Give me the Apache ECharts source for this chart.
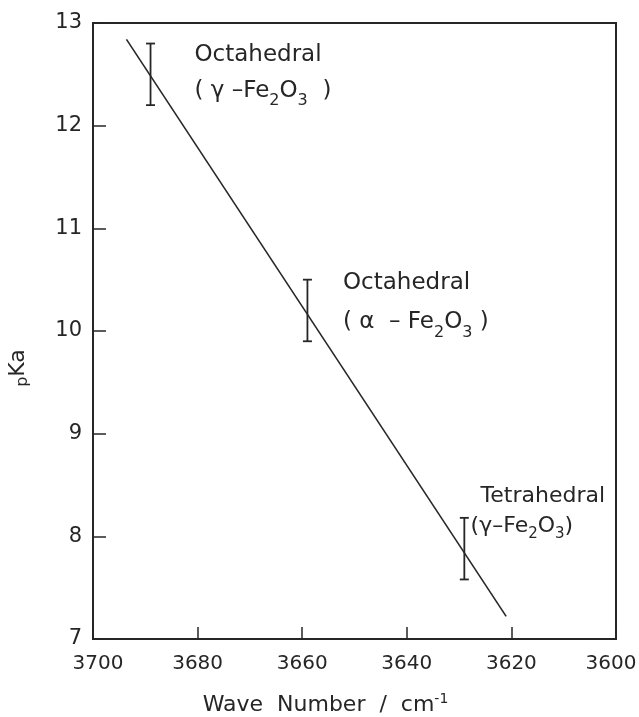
<!DOCTYPE html>
<html>
<head>
<meta charset="utf-8">
<script src="https://cdn.jsdelivr.net/npm/echarts@6/dist/echarts.min.js"></script>
<style>
  html, body { margin: 0; padding: 0; background: #fff; }
  #chart { width: 639px; height: 717px; }
</style>
</head>
<body>
<div id="chart"></div>
<script>
// Measured OH stretching bands and their acidities
const waveNumbers = [3689, 3659, 3629];
const pKaValues = [12.5, 10.2, 7.88];
const pKaErrors = [0.3, 0.3, 0.3];

// End points of the fitted straight line
const fitX = [3693.6, 3621];
const fitY = [12.84, 7.22];

// Site annotations (rich-text markup) and their anchors (wave number, pKa)
const siteLine1 = ['Octahedral', 'Octahedral', 'Tetrahedral'];
const siteLine2 = [
  '{t|( γ –Fe}{s|2}{t|O}{s|3}{t|  )}',
  '{t|( α  – Fe}{s|2}{t|O}{s|3}{t| )}',
  '{t|(γ–Fe}{s|2}{t|O}{s|3}{t|)}'
];
const siteX = [3680.6, 3652.2, 3627.8];
const siteY = [12.51, 10.28, 8.24];

// Axis ticks
const xTicks = [3700, 3680, 3660, 3640, 3620, 3600];
const yTicks = [7, 8, 9, 10, 11, 12, 13];

const ink = '#262626';
const font = 'DejaVu Sans';

const chart = echarts.init(document.getElementById('chart'), null, { renderer: 'canvas' });

const errorData = waveNumbers.map((x, i) => [x, pKaValues[i] - pKaErrors[i], pKaValues[i] + pKaErrors[i]]);
const fitData = fitX.map((x, i) => [x, fitY[i]]);
const siteData = siteX.map((x, i) => [x, siteY[i], i]);

function siteRich(size, lh) {
  return {
    h: { fontFamily: font, fontSize: size, fill: ink, lineHeight: lh },
    hi: { fontFamily: font, fontSize: size, fill: ink, lineHeight: lh, padding: [0, 0, 0, 10] },
    t: { fontFamily: font, fontSize: size, fill: ink, lineHeight: lh },
    s: { fontFamily: font, fontSize: Math.round(size * 0.68), fill: ink, lineHeight: lh, verticalAlign: 'bottom' }
  };
}

// The end labels of the x axis are nudged inward so they stay on the page
function xLabel(v) {
  if (!xTicks.includes(v)) return '';
  if (v === xTicks[0]) return '{first|' + v + '}';
  if (v === xTicks[xTicks.length - 1]) return '{last|' + v + '}';
  return '{mid|' + v + '}';
}

const option = {
  animation: false,
  backgroundColor: '#fff',
  grid: {
    left: 93, right: 23, top: 23, bottom: 78,
    containLabel: false,
    outerBoundsMode: 'none',
    show: true, borderColor: ink, borderWidth: 2, backgroundColor: 'transparent'
  },
  xAxis: {
    type: 'value',
    inverse: true,
    min: xTicks[xTicks.length - 1],
    max: xTicks[0],
    interval: 20,
    name: '{n|Wave  Number  /  cm}{e|-1}',
    nameLocation: 'middle',
    nameGap: 53,
    nameTextStyle: {
      fontFamily: font, color: ink, padding: [0, 58, 0, 0],
      rich: {
        n: { fontFamily: font, fontSize: 22, color: ink, lineHeight: 26 },
        e: { fontFamily: font, fontSize: 14, color: ink, lineHeight: 26, verticalAlign: 'top' }
      }
    },
    axisLine: { show: true, lineStyle: { color: ink, width: 2 } },
    axisTick: { show: true, inside: true, length: 12, lineStyle: { color: ink, width: 1.5 } },
    axisLabel: {
      margin: 15, fontFamily: font, fontSize: 20, color: ink,
      formatter: xLabel,
      rich: {
        mid: { fontFamily: font, fontSize: 20, color: ink },
        first: { fontFamily: font, fontSize: 20, color: ink, padding: [0, 0, 0, 10] },
        last: { fontFamily: font, fontSize: 20, color: ink, padding: [0, 10, 0, 0] }
      }
    },
    splitLine: { show: false }
  },
  yAxis: {
    type: 'value',
    min: yTicks[0],
    max: yTicks[yTicks.length - 1],
    interval: 1,
    name: '{p|p}{k|Ka}',
    nameLocation: 'middle',
    nameRotate: 90,
    nameGap: 62,
    nameTextStyle: {
      fontFamily: font, color: ink, padding: [0, 74, 0, 0],
      rich: {
        p: { fontFamily: font, fontSize: 16, color: ink, lineHeight: 26, verticalAlign: 'bottom' },
        k: { fontFamily: font, fontSize: 22, color: ink, lineHeight: 26 }
      }
    },
    axisLine: { show: true, lineStyle: { color: ink, width: 2 } },
    axisTick: { show: true, inside: true, length: 13, lineStyle: { color: ink, width: 1.5 } },
    axisLabel: {
      margin: 11, fontFamily: font, fontSize: 21, color: ink,
      formatter: v => yTicks.includes(v) ? String(v) : ''
    },
    splitLine: { show: false }
  },
  series: [
    {
      name: 'fit',
      type: 'line',
      data: fitData,
      symbol: 'none',
      lineStyle: { color: ink, width: 1.6 },
      z: 3
    },
    {
      name: 'error',
      type: 'custom',
      data: errorData,
      renderItem: (params, api) => {
        const x = api.value(0);
        const lo = api.coord([x, api.value(1)]);
        const hi = api.coord([x, api.value(2)]);
        const cap = 4.5;
        const style = { stroke: ink, lineWidth: 1.8, fill: null };
        return {
          type: 'group',
          children: [
            { type: 'line', shape: { x1: lo[0], y1: lo[1], x2: hi[0], y2: hi[1] }, style },
            { type: 'line', shape: { x1: lo[0] - cap, y1: lo[1], x2: lo[0] + cap, y2: lo[1] }, style },
            { type: 'line', shape: { x1: hi[0] - cap, y1: hi[1], x2: hi[0] + cap, y2: hi[1] }, style }
          ]
        };
      },
      z: 4
    },
    {
      name: 'sites',
      type: 'custom',
      data: siteData,
      silent: true,
      renderItem: (params, api) => {
        const i = api.value(2);
        const p = api.coord([api.value(0), api.value(1)]);
        const tetra = i === 2;
        const size = tetra ? 22 : 23;
        const lh = [36, 39, 30][i];
        const first = tetra ? '{hi|' + siteLine1[i] + '}' : '{h|' + siteLine1[i] + '}';
        return {
          type: 'text',
          x: p[0],
          y: p[1],
          style: {
            text: first + '\n' + siteLine2[i],
            fill: ink,
            fontFamily: font,
            fontSize: size,
            align: 'left',
            verticalAlign: 'middle',
            rich: siteRich(size, lh)
          }
        };
      },
      z: 5
    }
  ]
};

chart.setOption(option);
</script>
</body>
</html>
